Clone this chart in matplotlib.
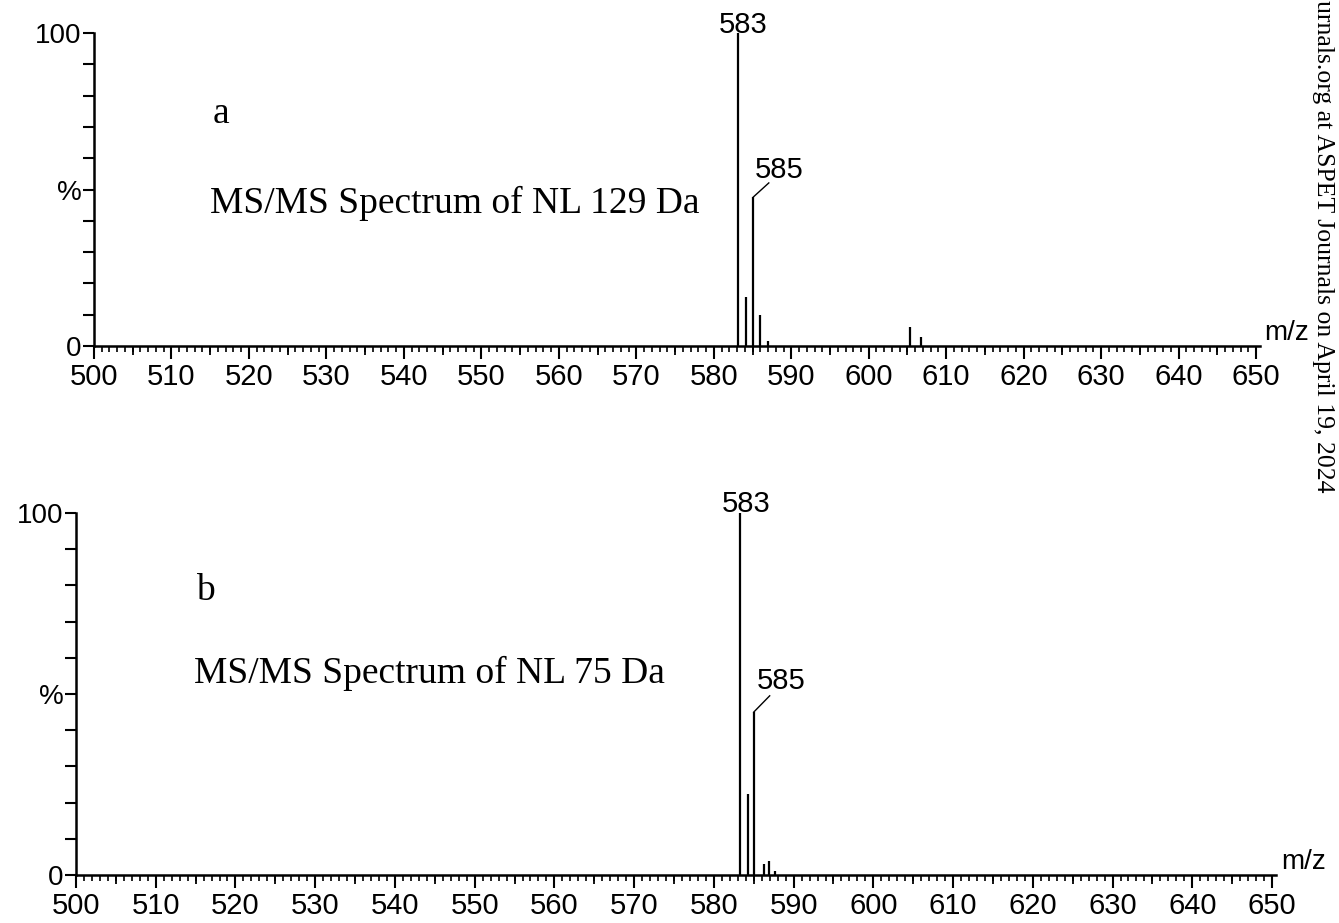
import numpy as np
import matplotlib
matplotlib.use("Agg")
import matplotlib.pyplot as plt
from matplotlib.ticker import MultipleLocator, FixedLocator

# spectrum a : MS/MS of NL 129 Da
mz_a = [583.1, 584.1, 585.1, 585.9, 587.0, 605.3, 606.8]
int_a = [100.0, 15.7, 47.6, 10.0, 1.5, 6.0, 2.8]
title_a = "MS/MS Spectrum of NL 129 Da"

# spectrum b : MS/MS of NL 75 Da
mz_b = [583.3, 584.3, 585.0, 586.3, 586.9, 587.7]
int_b = [100.0, 22.5, 45.0, 3.0, 3.8, 1.0]
title_b = "MS/MS Spectrum of NL 75 Da"

xticks = [500, 510, 520, 530, 540, 550, 560, 570, 580, 590, 600, 610, 620, 630, 640, 650]
ytick_pos = [0, 50, 100]
ytick_lab = ["0", "%", "100"]

W, H = 1339, 923
fig = plt.figure(figsize=(W / 100, H / 100), dpi=100)

sans = "Liberation Sans"
serif = "Liberation Serif"


def spectrum(rect, mz, inten, letter, title, letter_xy, title_xy):
    ax = fig.add_axes(rect)
    ax.vlines(mz, 0, inten, color="black", lw=1.6)
    ax.set_xlim(500, 650.5)
    ax.set_ylim(0, 100)
    for s in ["top", "right"]:
        ax.spines[s].set_visible(False)
    ax.spines["left"].set_linewidth(1.8)
    ax.spines["bottom"].set_linewidth(1.8)

    ax.xaxis.set_major_locator(FixedLocator(xticks))
    ax.xaxis.set_minor_locator(MultipleLocator(1))
    ax.set_xticklabels([str(t) for t in xticks], fontsize=21, family=sans)
    ax.tick_params(axis="x", which="major", length=9, width=1.5, pad=3)
    ax.tick_params(axis="x", which="minor", length=4, width=1.2)

    # half-way ticks every 5 units, a bit longer than the unit ticks
    sec = ax.secondary_xaxis("bottom")
    sec.spines["bottom"].set_visible(False)
    sec.xaxis.set_major_locator(MultipleLocator(5))
    sec.tick_params(axis="x", length=6.5, width=1.3, labelbottom=False)

    ax.yaxis.set_major_locator(FixedLocator(ytick_pos))
    ax.yaxis.set_minor_locator(MultipleLocator(10))
    ax.set_yticklabels(ytick_lab, fontsize=20, family=sans)
    ax.tick_params(axis="y", which="both", length=8, width=1.5, pad=1)

    ax.text(1.004, 0.0, "m/z", transform=ax.transAxes, fontsize=20, family=sans,
            ha="left", va="bottom")

    # labels of the two main peaks
    ax.text(mz[0] + 0.7, 102.5, "583", fontsize=21, family=sans,
            ha="center", va="center", clip_on=False)
    ax.plot([mz[2], mz[2] + 2.0], [inten[2], inten[2] + 4.5], color="black", lw=1.0,
            clip_on=False)
    ax.text(mz[2] + 3.4, inten[2] + 8.6, "585", fontsize=21, family=sans,
            ha="center", va="center", clip_on=False)

    fig.text(letter_xy[0] / W, 1 - letter_xy[1] / H, letter, fontsize=27, family=serif,
             ha="left", va="baseline")
    fig.text(title_xy[0] / W, 1 - title_xy[1] / H, title, fontsize=27, family=serif,
             ha="left", va="baseline")
    return ax


spectrum([94 / W, 1 - 346 / H, 1166 / W, 313 / H], mz_a, int_a,
         "a", title_a, (213, 123), (210, 213))
spectrum([76 / W, 1 - 875 / H, 1200 / W, 362 / H], mz_b, int_b,
         "b", title_b, (196, 600), (194, 683))

# journal watermark along the right edge
fig.text(1323 / W, 1.0, "urnals.org at ASPET Journals on April 19, 2024",
         rotation=-90, fontsize=18.5, family=serif, ha="center", va="top")

fig.savefig("out.png", dpi=100)
